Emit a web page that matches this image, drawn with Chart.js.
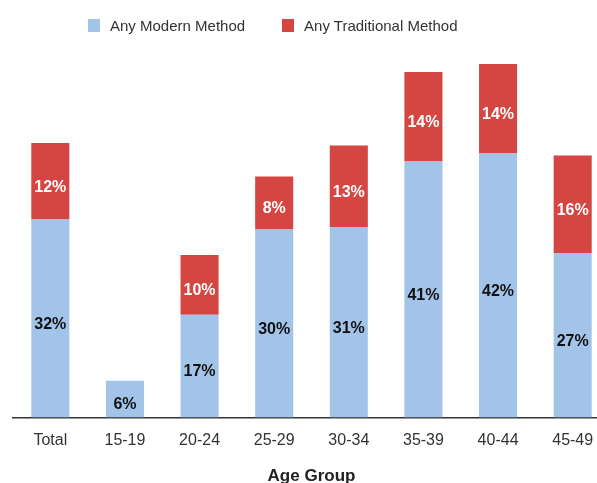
<!DOCTYPE html>
<html>
<head>
<meta charset="utf-8">
<script src="https://cdn.jsdelivr.net/npm/chart.js@4/dist/chart.umd.min.js"></script>
<style>
  html, body { margin: 0; padding: 0; background: #fff; overflow: hidden; }
  #wrap { position: relative; width: 597px; height: 483px; overflow: hidden; }
  #legend { position: absolute; top: 17px; left: 88px; font: 15px "Liberation Sans", Arial, sans-serif; color: #333; white-space: nowrap; }
  #legend span.item { display: inline-block; margin-right: 37px; }
  #legend span.box { display: inline-block; width: 12px; height: 13px; vertical-align: -1px; margin-right: 10px; }
  canvas { position: absolute; left: 0; top: 0; }
</style>
</head>
<body>
<div id="wrap">
  <canvas id="myChart" width="611" height="487" style="width:611px;height:487px"></canvas>
  <div id="legend"></div>
</div>
<script>
var categories = ['Total', '15-19', '20-24', '25-29', '30-34', '35-39', '40-44', '45-49'];
// bar heights (%), labels as printed on the bars
var modernValues = [31.8, 5.9, 16.5, 30.2, 30.6, 41.1, 42.4, 26.4];
var traditionalValues = [12.3, 0, 9.6, 8.5, 13.1, 14.4, 14.4, 15.7];
var modernLabels = ['32%', '6%', '17%', '30%', '31%', '41%', '42%', '27%'];
var traditionalLabels = ['12%', '', '10%', '8%', '13%', '14%', '14%', '16%'];
var seriesNames = ['Any Modern Method', 'Any Traditional Method'];
var seriesColors = ['#a3c4e9', '#d54643'];
var labelColors = ['#111111', '#ffffff'];

document.addEventListener('DOMContentLoaded', function() {
    const ctx = document.getElementById('myChart').getContext('2d');

    // legend drawn in html so it can sit left of centre like the original
    const legendEl = document.getElementById('legend');
    seriesNames.forEach(function(name, i) {
        const item = document.createElement('span');
        item.className = 'item';
        item.innerHTML = '<span class="box" style="background:' + seriesColors[i] + '"></span>' + name;
        legendEl.appendChild(item);
    });

    const allLabels = [modernLabels, traditionalLabels];

    const barLabels = {
        id: 'barLabels',
        afterDatasetsDraw(chart) {
            const c = chart.ctx;
            c.save();
            c.font = 'bold 16px "Liberation Sans", Arial, sans-serif';
            c.textAlign = 'center';
            c.textBaseline = 'middle';
            chart.data.datasets.forEach(function(ds, di) {
                chart.getDatasetMeta(di).data.forEach(function(bar, i) {
                    const txt = allLabels[di][i];
                    if (!txt) return;
                    c.fillStyle = labelColors[di];
                    c.fillText(txt, bar.x, (bar.y + bar.base) / 2 + 6);
                });
            });
            c.restore();
        }
    };

    new Chart(ctx, {
        type: 'bar',
        data: {
            labels: categories,
            datasets: [{
                label: seriesNames[0],
                data: modernValues,
                backgroundColor: seriesColors[0]
            }, {
                label: seriesNames[1],
                data: traditionalValues,
                backgroundColor: seriesColors[1]
            }]
        },
        options: {
            responsive: false,
            animation: false,
            layout: { padding: { left: 13, top: 44, right: 1, bottom: 0 } },
            categoryPercentage: 1,
            barPercentage: 0.51,
            plugins: {
                legend: { display: false },
                tooltip: { enabled: false }
            },
            scales: {
                x: {
                    stacked: true,
                    grid: { display: false, drawTicks: false },
                    border: { display: true, color: '#333', width: 1.5 },
                    ticks: {
                        color: '#333',
                        padding: 14,
                        font: { family: '"Liberation Sans", Arial, sans-serif', size: 16 }
                    },
                    title: {
                        display: true,
                        text: 'Age Group',
                        color: '#222',
                        padding: { top: 2, bottom: 0 },
                        font: { family: '"Liberation Sans", Arial, sans-serif', size: 17, weight: 'bold' }
                    }
                },
                y: {
                    stacked: true,
                    display: false,
                    min: 0,
                    max: 60
                }
            }
        },
        plugins: [barLabels]
    });
});
</script>
</body>
</html>
